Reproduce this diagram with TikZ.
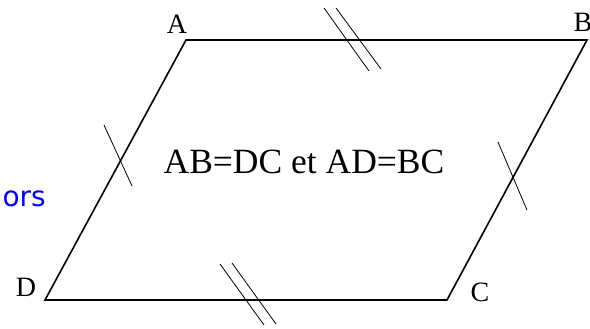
\documentclass[tikz,border=0pt]{standalone}
\usepackage{fontspec}
\setmainfont{Liberation Serif}
\newfontfamily\blufont{DejaVu Sans}
\begin{document}
\begin{tikzpicture}[x=1pt,y=-1pt,
  side/.style={line width=1.6pt,line join=miter},
  tick/.style={line width=0.8pt},
  vlabel/.style={font=\fontsize{28}{28}\selectfont,inner sep=0pt},
  note/.style={font=\fontsize{35.5}{35.5}\selectfont,inner sep=0pt}]
\useasboundingbox (0,0) rectangle (590,329);
\coordinate (A) at (186,40);
\coordinate (B) at (587,40);
\coordinate (C) at (447,300);
\coordinate (D) at (45,300);
\draw[side] (A) -- (B) -- (C) -- (D) -- cycle;
% labels
\node[vlabel] (lA) at (177,24) {A};
\node[vlabel] (lB) at (583,22) {B};
\node[vlabel] (lC) at (480,292) {C};
\node[vlabel] (lD) at (26,287) {D};
\node[note] (txt) at (304,162) {AB=DC et AD=BC};
\node[font=\blufont\fontsize{28}{28}\selectfont,text=blue,anchor=east,inner sep=0pt] (ors) at (46,199) {ors};
% ticks AD, BC
\coordinate (t1a) at (104,125); \coordinate (t1b) at (132,186);
\draw[tick] (t1a) -- (t1b);
\coordinate (t2a) at (498,142); \coordinate (t2b) at (527,210);
\draw[tick] (t2a) -- (t2b);
% double ticks AB
\coordinate (t3a) at (324,8); \coordinate (t3b) at (369,71);
\coordinate (t4a) at (336,8); \coordinate (t4b) at (381,69);
\draw[tick] (t3a) -- (t3b);
\draw[tick] (t4a) -- (t4b);
% double ticks DC
\coordinate (t5a) at (220,264); \coordinate (t5b) at (264,325);
\coordinate (t6a) at (232,263); \coordinate (t6b) at (276,324);
\draw[tick] (t5a) -- (t5b);
\draw[tick] (t6a) -- (t6b);
\end{tikzpicture}
\end{document}
